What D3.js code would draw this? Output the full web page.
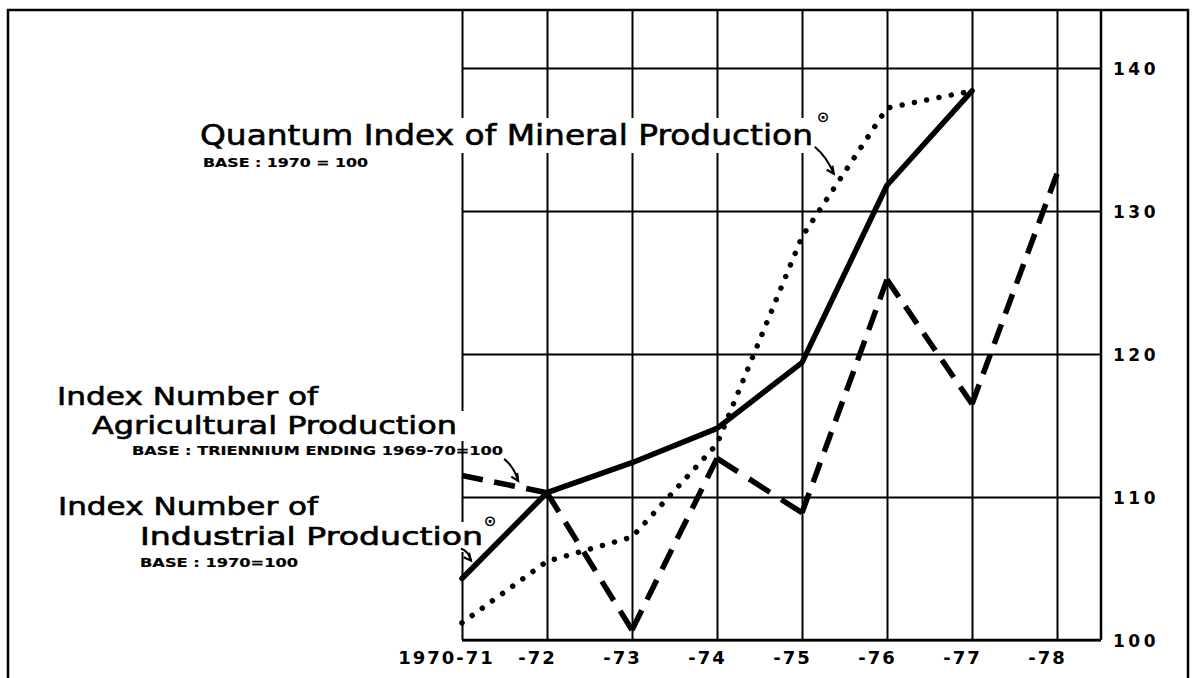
<!DOCTYPE html>
<html><head><meta charset="utf-8">
<script src="https://cdn.jsdelivr.net/npm/d3@7"></script>
<style>
html,body{margin:0;padding:0;background:#fff;}
svg{display:block;}
</style></head><body>
<svg id="chart" width="1197" height="678"></svg>
<script>
// ---- data ----
const categories = ["1970-71","-72","-73","-74","-75","-76","-77","-78"];
const industrial   = [104.3,110.3,112.4,114.8,119.4,131.8,138.4,null];
const agricultural = [111.5,110.3,100.7,112.7,108.9,125.2,116.5,132.6];
const mineral      = [101.2,105.5,107.2,113.7,128.2,137.2,138.4,null];
const yTicks = [100,110,120,130,140];

// ---- layout ----
const svg = d3.select("#chart");
const W = 1197, H = 678;
const plot = {left:462, right:1101, top:10, bottom:640};
const x = d3.scalePoint().domain(categories).range([plot.left, 1057]);
const y = d3.scaleLinear().domain([100,140]).range([plot.bottom, 68]);
const FONT = "'DejaVu Sans', sans-serif";

// frame
svg.append("path")
  .attr("d", `M8,${H} L8,10 L1188,10 L1188,${H}`)
  .attr("fill","none").attr("stroke","#000").attr("stroke-width",2.5);

// vertical gridlines (x axis)
const xAxis = svg.append("g").attr("transform",`translate(0,${plot.bottom})`)
  .call(d3.axisBottom(x).tickSizeInner(-(plot.bottom-plot.top)).tickSizeOuter(0).tickPadding(12));
xAxis.select(".domain").remove();
xAxis.selectAll(".tick line").attr("stroke","#000").attr("stroke-width",2);
xAxis.selectAll(".tick text")
  .attr("font-family",FONT).attr("font-weight","bold").attr("font-size",18)
  .attr("letter-spacing",2).attr("fill","#000")
  .attr("dx",(d,i)=> i===0 ? -16 : -10).attr("dy","0.9em").attr("y",8);

// horizontal gridlines (right y axis)
const yAxis = svg.append("g").attr("transform",`translate(${plot.right},0)`)
  .call(d3.axisRight(y).tickValues(yTicks).tickSizeInner(-(plot.right-plot.left)).tickSizeOuter(0).tickPadding(12));
yAxis.select(".domain").remove();
yAxis.selectAll(".tick line").attr("stroke","#000").attr("stroke-width",2);
yAxis.selectAll(".tick text")
  .attr("font-family",FONT).attr("font-weight","bold").attr("font-size",17)
  .attr("letter-spacing",3.5).attr("fill","#000").attr("dy","0.4em");

// plot borders: bottom and right axis line
svg.append("line").attr("x1",plot.left).attr("x2",plot.right).attr("y1",y(100)).attr("y2",y(100))
  .attr("stroke","#000").attr("stroke-width",2.5);
svg.append("line").attr("x1",plot.right).attr("x2",plot.right).attr("y1",plot.top).attr("y2",plot.bottom)
  .attr("stroke","#000").attr("stroke-width",2.5);

// ---- labels (with white backgrounds masking grid) ----
const labels = [
  {t:"Quantum Index of Mineral Production", x:200, y:145, s:28, w:"normal", len:613},
  {t:"BASE : 1970 = 100", x:203, y:167, s:13, w:"bold", len:165},
  {t:"Index Number of", x:57, y:405, s:24, w:"normal", len:261},
  {t:"Agricultural Production", x:92, y:434, s:24, w:"normal", len:365},
  {t:"BASE : TRIENNIUM ENDING 1969-70=100", x:132, y:455, s:12.5, w:"bold", len:371},
  {t:"Index Number of", x:58, y:515, s:24, w:"normal", len:260},
  {t:"Industrial Production", x:140, y:545, s:24, w:"normal", len:343},
  {t:"BASE : 1970=100", x:140, y:567, s:13, w:"bold", len:158}
];
const marks = [
  {x:823, y:122}, {x:490, y:526}
];
const bgG = svg.append("g");
const txtG = svg.append("g");
labels.forEach(l=>{
  const t = txtG.append("text").attr("x",l.x).attr("y",l.y)
    .attr("font-family",FONT).attr("font-size",l.s).attr("font-weight",l.w)
    .attr("textLength",l.len).attr("lengthAdjust","spacingAndGlyphs")
    .attr("fill","#000").attr("stroke","#000").attr("stroke-width", l.s > 20 ? 0.6 : 0.2)
    .text(l.t);
  if (l.s > 20) {
    const b = t.node().getBBox();
    bgG.append("rect").attr("x",b.x-4).attr("y",b.y-1).attr("width",b.width+14).attr("height",b.height+2)
      .attr("fill","#fff");
  }
});
marks.forEach(m=>{
  txtG.append("text").attr("x",m.x).attr("y",m.y).attr("text-anchor","middle")
    .attr("font-family",FONT).attr("font-size",15).attr("font-weight","bold").attr("fill","#000").text("\u2299");
});

// ---- series ----
function pts(vals){ return categories.map((c,i)=>({c, v:vals[i]})).filter(d=>d.v!=null); }
const line = d3.line().x(d=>x(d.c)).y(d=>y(d.v));

// dotted: mineral
svg.append("path").datum(pts(mineral)).attr("d",line)
  .attr("fill","none").attr("stroke","#000").attr("stroke-width",5.5)
  .attr("stroke-linecap","round").attr("stroke-dasharray","0.01 12.5");

// solid: industrial
svg.append("path").datum(pts(industrial)).attr("d",line)
  .attr("fill","none").attr("stroke","#000").attr("stroke-width",5.5)
  .attr("stroke-linejoin","round").attr("stroke-linecap","round");

// dashed: agricultural, dash pattern fitted per segment so each vertex is a dash
const ap = pts(agricultural);
for (let i=0;i<ap.length-1;i++){
  const a=ap[i], b=ap[i+1];
  const x0=x(a.c), y0=y(a.v), x1=x(b.c), y1=y(b.v);
  const L=Math.hypot(x1-x0,y1-y0), d=22, g=12;
  const n=Math.max(1,Math.round((L+g)/(d+g)));
  const k=L/(n*d+(n-1)*g);
  svg.append("path").datum([a,b]).attr("d",line)
    .attr("fill","none").attr("stroke","#000").attr("stroke-width",5.5)
    .attr("stroke-dasharray",`${d*k} ${g*k}`);
}

// ---- annotation arrows (tips placed on series via scales) ----
function onSeries(vals, i, t){
  const xa=x(categories[i]), xb=x(categories[i+1]);
  return [xa+(xb-xa)*t, y(vals[i])+(y(vals[i+1])-y(vals[i]))*t];
}
const arrows = [
  {vals:mineral, i:4, t:0.42, tip:[-4,-9], tail:[-19,-27]},
  {vals:agricultural, i:0, t:0.66, tip:[0,-6], tail:[-14,-22]},
  {vals:industrial, i:0, t:0.14, tip:[-3,-6], tail:[-10,-12]}
];
arrows.forEach(a=>{
  const p = onSeries(a.vals,a.i,a.t);
  const tx=p[0]+a.tip[0], ty=p[1]+a.tip[1];
  const sx=tx+a.tail[0], sy=ty+a.tail[1];
  const ang=Math.atan2(ty-sy,tx-sx), h=8;
  svg.append("path")
    .attr("d",`M${sx},${sy} Q${(sx+tx)/2+3},${(sy+ty)/2-3} ${tx},${ty}`)
    .attr("fill","none").attr("stroke","#000").attr("stroke-width",2);
  svg.append("path")
    .attr("d",`M${tx-h*Math.cos(ang-0.45)},${ty-h*Math.sin(ang-0.45)} L${tx},${ty} L${tx-h*Math.cos(ang+0.45)},${ty-h*Math.sin(ang+0.45)}`)
    .attr("fill","none").attr("stroke","#000").attr("stroke-width",2.2);
});
</script>
</body></html>
